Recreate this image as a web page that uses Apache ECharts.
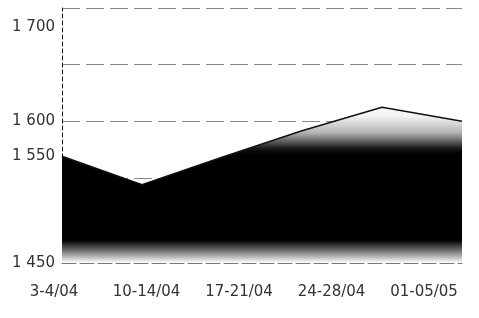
<!DOCTYPE html>
<html>
<head>
<meta charset="utf-8">
<script src="https://cdn.jsdelivr.net/npm/echarts@6/dist/echarts.min.js"></script>
<style>
  html, body { margin: 0; padding: 0; background: #fff; }
  #chart { width: 479px; height: 318px; }
</style>
</head>
<body>
<div id="chart"></div>
<script>
// weekly points (6) and the 5 period labels printed under the axis
const points = ['p1', 'p2', 'p3', 'p4', 'p5', 'p6'];
const values = [1563, 1533, 1562, 1590, 1615, 1600];
const periodLabels = ['3-4/04', '10-14/04', '17-21/04', '24-28/04', '01-05/05'];
const yLabelValues = [1450, 1550, 1600, 1700];
const gridValues = [1540, 1600, 1660, 1720];

function fmt(v) {
  let s = String(v);
  return s.slice(0, 1) + ' ' + s.slice(1);
}

let chart = echarts.init(document.getElementById('chart'));

let fill = new echarts.graphic.LinearGradient(0, 100, 0, 263, [
  { offset: 0, color: '#ffffff' },
  { offset: 0.1, color: '#f2f2f2' },
  { offset: 0.2, color: '#b5b5b5' },
  { offset: 0.3, color: '#151515' },
  { offset: 0.33, color: '#000000' },
  { offset: 0.86, color: '#000000' },
  { offset: 0.92, color: '#6a6a6a' },
  { offset: 1, color: '#ffffff' }
], true);

let option = {
  animation: false,
  backgroundColor: '#fff',
  grid: [
    { left: 62, right: 17, top: 8, bottom: 55 },
    { left: 54, right: 55, top: 8, bottom: 55 }
  ],
  xAxis: [
    {
      type: 'category',
      gridIndex: 0,
      data: points,
      boundaryGap: false,
      axisLine: { lineStyle: { color: '#777', type: [14, 4], width: 1 } },
      axisTick: { show: false },
      axisLabel: { show: false }
    },
    {
      type: 'category',
      gridIndex: 1,
      data: periodLabels,
      boundaryGap: false,
      axisLine: { show: false },
      axisTick: { show: false },
      axisLabel: {
        margin: 22,
        color: '#333',
        fontFamily: 'DejaVu Sans',
        fontSize: 15,
        interval: 0
      }
    }
  ],
  yAxis: [
    {
      type: 'value',
      gridIndex: 0,
      min: 1450,
      max: 1720,
      axisLine: { show: true, lineStyle: { color: '#111', type: [4, 3], width: 1 } },
      axisTick: { show: false, customValues: gridValues },
      splitLine: { show: true, lineStyle: { color: '#888', type: [18, 6], width: 1 } },
      axisLabel: {
        customValues: yLabelValues,
        margin: 7,
        color: '#333',
        fontFamily: 'DejaVu Sans',
        fontSize: 15,
        formatter: function (v) {
          return v === 1550 ? '{up|' + fmt(v) + '}' : fmt(v);
        },
        rich: {
          up: { fontFamily: 'DejaVu Sans', fontSize: 15, color: '#333', padding: [0, 0, 24, 0] }
        }
      }
    },
    {
      type: 'value',
      gridIndex: 1,
      show: false
    }
  ],
  series: [
    {
      type: 'line',
      xAxisIndex: 0,
      yAxisIndex: 0,
      data: values,
      showSymbol: false,
      lineStyle: { color: '#111', width: 1.5 },
      areaStyle: { color: fill, opacity: 1 }
    }
  ]
};

chart.setOption(option);
</script>
</body>
</html>
